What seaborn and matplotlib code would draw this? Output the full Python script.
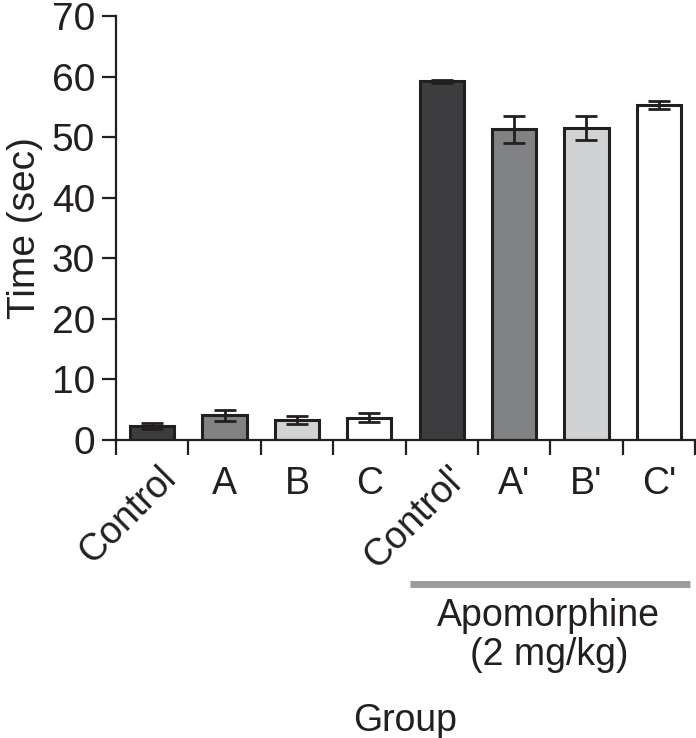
import numpy as np
import pandas as pd
import seaborn as sns
import matplotlib.pyplot as plt
import matplotlib.transforms as mtransforms

# values (mean +/- error, seconds)
groups = ["Control", "A", "B", "C", "Control'", "A'", "B'", "C'"]
means = [2.3, 4.1, 3.3, 3.7, 59.2, 51.3, 51.5, 55.3]
errors = [0.5, 0.9, 0.7, 0.7, 0.3, 2.2, 2.0, 0.7]
colors = ["#3d3d3f", "#808285", "#d1d2d4", "#ffffff",
          "#3d3d3f", "#808285", "#d1d2d4", "#ffffff"]
yticks = [0, 10, 20, 30, 40, 50, 60, 70]

sns.set_style("ticks")
plt.rcParams['font.family'] = ['Liberation Sans', 'DejaVu Sans']
ink = "#231f20"
plt.rcParams['text.color'] = ink
plt.rcParams['axes.labelcolor'] = ink
plt.rcParams['xtick.color'] = ink
plt.rcParams['ytick.color'] = ink

df = pd.DataFrame({"Group": groups, "Time": means})

fig = plt.figure(figsize=(6.96, 7.38), dpi=100)
ax = fig.add_axes([116 / 696, 1 - 440 / 738, 579 / 696, 424 / 738])

sns.barplot(data=df, x="Group", y="Time", hue="Group", palette=colors,
            legend=False, width=0.61, edgecolor=ink, linewidth=2.2,
            ax=ax, zorder=2)
ax.errorbar(np.arange(len(groups)), means, yerr=errors, fmt="none",
            ecolor=ink, elinewidth=2.0, capsize=8, capthick=2.0, zorder=3)

ax.set_xlim(-0.5, len(groups) - 0.5)
ax.set_ylim(0, 70)
ax.set_yticks(yticks)
ax.tick_params(axis="y", labelsize=28, length=10, width=1.6, pad=5)
ax.set_xticks(np.arange(len(groups)))
ax.set_xticks(np.arange(len(groups) + 1) - 0.5, minor=True)
ax.tick_params(axis="x", which="major", length=0, pad=19, labelsize=27)
ax.tick_params(axis="x", which="minor", length=11, width=1.6)
ax.set_xticklabels(groups)
for lab in ax.get_xticklabels():
    if len(lab.get_text()) > 3:
        lab.set_rotation(45)
        lab.set_rotation_mode("anchor")
        lab.set_ha("right")
        lab.set_va("top")
        lab.set_transform(lab.get_transform() + mtransforms.ScaledTranslation(
            0.06, 0.07, fig.dpi_scale_trans))
    else:
        lab.set_va("top")

for side in ["top", "right"]:
    ax.spines[side].set_visible(False)
for side in ["left", "bottom"]:
    ax.spines[side].set_linewidth(1.6)
    ax.spines[side].set_color(ink)

ax.set_ylabel("Time (sec)", fontsize=28, labelpad=6)
ax.set_xlabel("Group", fontsize=27, va="top")
ax.xaxis.set_label_coords(0.5, -0.62)

trans = mtransforms.blended_transform_factory(ax.transData, ax.transAxes)
ax.plot([3.56, 7.43], [-0.34, -0.34], color="#9a9b9d", lw=5,
        transform=trans, clip_on=False, solid_capstyle="butt")
ax.text(5.48, -0.372, "Apomorphine\n(2 mg/kg)", transform=trans,
        ha="center", va="top", fontsize=27, linespacing=1.12)

plt.savefig("out.png", dpi=100)
